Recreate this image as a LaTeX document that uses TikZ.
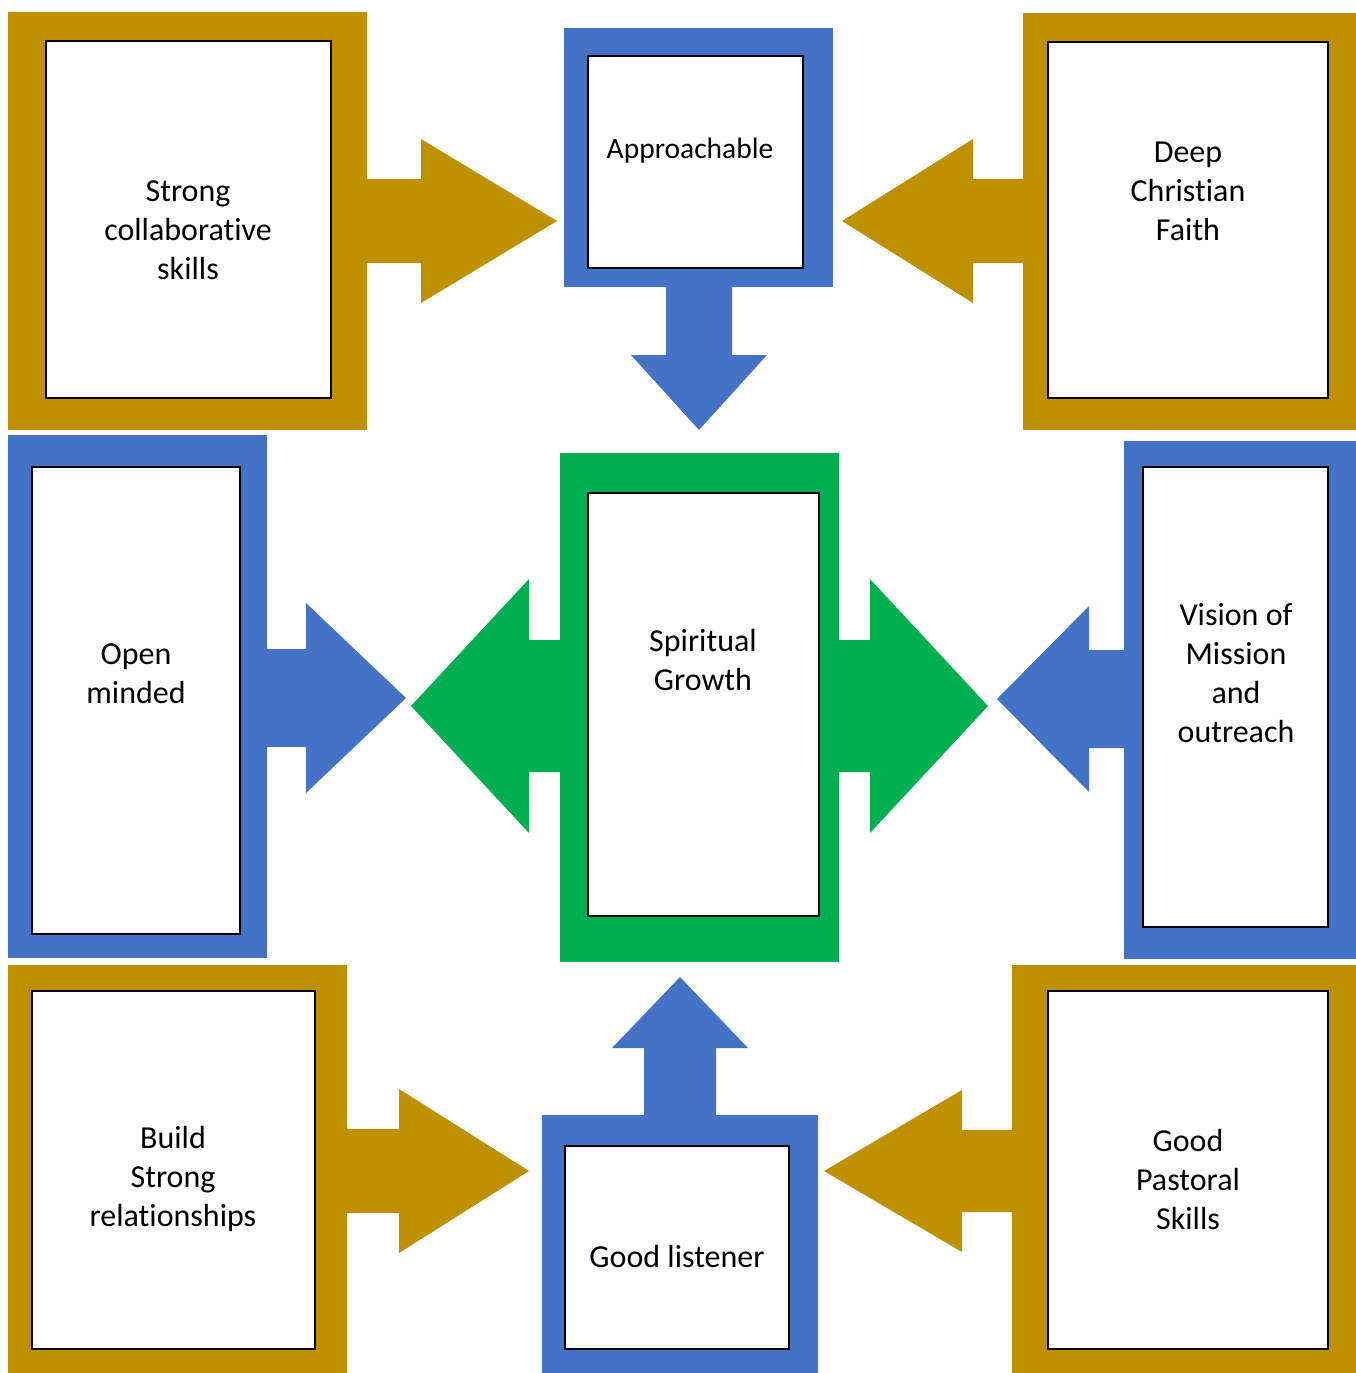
\documentclass[tikz,border=0pt]{standalone}
\usepackage{fontspec}
\setmainfont{Carlito}[Ligatures=NoCommon]
\usepackage{tikz}
\usetikzlibrary{fit}

\definecolor{goldc}{HTML}{BF9000}
\definecolor{bluec}{HTML}{4472C4}
\definecolor{greenc}{HTML}{00B050}

\tikzset{
  frame/.style={inner sep=0pt, outer sep=0pt},
  box/.style={draw=black, line width=1.2pt, fill=white, inner sep=0pt},
  txt/.style={align=center, inner sep=0pt, font=\fontsize{32}{39}\selectfont}
}

% block arrow pointing left/right: colour, base x, back x, tip x, mid y, shaft half, head half
\newcommand{\harrow}[7]{\fill[#1] (#2,#5-#6) -- (#3,#5-#6) -- (#3,#5-#7) -- (#4,#5) -- (#3,#5+#7) -- (#3,#5+#6) -- (#2,#5+#6) -- cycle;}
% block arrow pointing up/down: colour, base y, back y, tip y, mid x, shaft half, head half
\newcommand{\varrow}[7]{\fill[#1] (#5-#6,#2) -- (#5-#6,#3) -- (#5-#7,#3) -- (#5,#4) -- (#5+#7,#3) -- (#5+#6,#3) -- (#5+#6,#2) -- cycle;}

\begin{document}
\begin{tikzpicture}[x=1pt, y=-1pt]
      \useasboundingbox (0,0) rectangle (1356,1373);
      % arrows
      \harrow{goldc}{360}{421}{557}{221}{42}{82}
      \varrow{bluec}{280}{355}{430}{699}{33}{68}
      \harrow{goldc}{1030}{973}{842}{221}{42}{82}
      \harrow{bluec}{260}{306}{406}{698}{49}{95}
      \harrow{greenc}{567}{529}{411}{706}{66}{127}
      \harrow{greenc}{832}{870}{988}{706}{66}{127}
      \harrow{bluec}{1131}{1089}{997}{699}{49}{93}
      \harrow{goldc}{340}{399}{529}{1171}{42}{82}
      \varrow{bluec}{1122}{1048}{977}{680}{36}{68}
      \harrow{goldc}{1019}{962}{824}{1171}{41}{81}
      % top row
      \node[frame, fill=goldc, fit={(8,12) (367,430)}] (collabf) {};
      \node[box, fit={(46,41) (331,398)}] (collab) {};
      \node[txt] (collabt) at (188,230) {Strong\\collaborative\\skills};
      \node[frame, fill=bluec, fit={(564,28) (833,287)}] (approachf) {};
      \node[box, fit={(588,56) (803,268)}] (approach) {};
      \node[txt, font=\fontsize{29.5}{36}\selectfont] (approacht) at (690,151) {Approachable};
      \node[frame, fill=goldc, fit={(1023,13) (1356,430)}] (faithf) {};
      \node[box, fit={(1048,42) (1328,398)}] (faith) {};
      \node[txt] (faitht) at (1188,191) {Deep\\Christian\\Faith};
      % middle row
      \node[frame, fill=bluec, fit={(8,435) (267,958)}] (openf) {};
      \node[box, fit={(32,467) (240,934)}] (open) {};
      \node[txt] (opent) at (136,674) {Open\\minded};
      \node[frame, fill=greenc, fit={(560,453) (839,962)}] (growthf) {};
      \node[box, fit={(588,493) (819,916)}] (growth) {};
      \node[txt] (growtht) at (703,660) {Spiritual\\Growth};
      \node[frame, fill=bluec, fit={(1124,441) (1356,959)}] (visionf) {};
      \node[box, fit={(1143,467) (1328,927)}] (vision) {};
      \node[txt] (visiont) at (1236,673) {Vision of\\Mission\\and\\outreach};
      % bottom row
      \node[frame, fill=goldc, fit={(8,965) (347,1373)}] (relatef) {};
      \node[box, fit={(32,991) (315,1349)}] (relate) {};
      \node[txt] (relatet) at (173,1179) {Build\\Strong\\relationships};
      \node[frame, fill=bluec, fit={(542,1115) (818,1373)}] (listenf) {};
      \node[box, fit={(565,1146) (789,1349)}] (listen) {};
      \node[txt] (listent) at (677,1256) {Good listener};
      \node[frame, fill=goldc, fit={(1012,965) (1356,1373)}] (pastoralf) {};
      \node[box, fit={(1048,991) (1328,1349)}] (pastoral) {};
      \node[txt] (pastoralt) at (1188,1179) {Good\\Pastoral\\Skills};
   \end{tikzpicture}
\end{document}
